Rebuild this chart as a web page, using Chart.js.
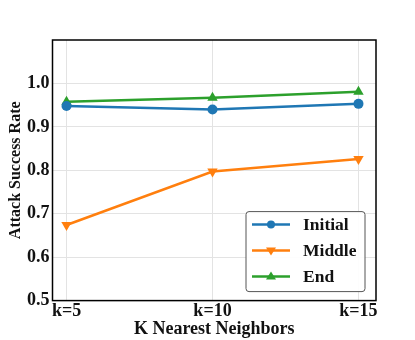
<!DOCTYPE html>
<html>
<head>
<meta charset="utf-8">
<script src="https://cdn.jsdelivr.net/npm/chart.js@4"></script>
<style>
  body { margin: 0; background: #fff; }
  #wrap { width: 415px; height: 340px; }
</style>
</head>
<body>
<div id="wrap"><canvas id="chart"></canvas></div>
<script>
const kValues = [5, 10, 15];
const kLabels = ['k=5', 'k=10', 'k=15'];
const initialRate = [0.948, 0.940, 0.953];
const middleRate = [0.674, 0.797, 0.826];
const endRate = [0.958, 0.967, 0.981];
const yTicks = [0.5, 0.6, 0.7, 0.8, 0.9, 1.0];

const serif = "'Liberation Serif', 'Times New Roman', serif";

function pts(vals) {
    return kValues.map((k, i) => ({ x: k, y: vals[i] }));
}

// frame round the plot and boxed legend inside it
const framePlugin = {
    id: 'frame',
    afterDraw(chart) {
        const ctx = chart.ctx;
        const a = chart.chartArea;
        ctx.save();
        ctx.strokeStyle = '#000';
        ctx.lineWidth = 1.5;
        ctx.strokeRect(a.left, a.top, a.right - a.left, a.bottom - a.top);

        // legend box
        const bx = a.right - 130, by = a.bottom - 89, bw = 119, bh = 80;
        ctx.fillStyle = 'rgba(255,255,255,0.9)';
        ctx.strokeStyle = '#555';
        ctx.lineWidth = 1;
        ctx.beginPath();
        ctx.roundRect(bx, by, bw, bh, 3);
        ctx.fill();
        ctx.stroke();

        ctx.font = 'bold 17.5px ' + serif;
        ctx.textBaseline = 'middle';
        chart.data.datasets.forEach((ds, i) => {
            const y = by + 13 + i * 26;
            ctx.strokeStyle = ds.borderColor;
            ctx.lineWidth = 2.5;
            ctx.beginPath();
            ctx.moveTo(bx + 6, y);
            ctx.lineTo(bx + 44, y);
            ctx.stroke();
            ctx.fillStyle = ds.borderColor;
            ctx.beginPath();
            if (ds.pointStyle === 'circle') {
                ctx.arc(bx + 25, y, 4, 0, Math.PI * 2);
            } else if (ds.pointRotation === 180) {
                ctx.moveTo(bx + 20, y - 3);
                ctx.lineTo(bx + 30, y - 3);
                ctx.lineTo(bx + 25, y + 5);
            } else {
                ctx.moveTo(bx + 20, y + 3);
                ctx.lineTo(bx + 30, y + 3);
                ctx.lineTo(bx + 25, y - 5);
            }
            ctx.closePath();
            ctx.fill();
            ctx.fillStyle = '#111';
            ctx.fillText(ds.label, bx + 57, y + 1);
        });
        ctx.restore();
    }
};

new Chart(document.querySelector('#chart').getContext('2d'), {
    type: 'line',
    data: {
        datasets: [
            {
                label: 'Initial',
                data: pts(initialRate),
                borderColor: '#1f77b4',
                backgroundColor: '#1f77b4',
                borderWidth: 2.5,
                pointStyle: 'circle',
                pointRadius: 5,
                pointBorderWidth: 0
            },
            {
                label: 'Middle',
                data: pts(middleRate),
                borderColor: '#ff7f0e',
                backgroundColor: '#ff7f0e',
                borderWidth: 2.5,
                pointStyle: 'triangle',
                pointRotation: 180,
                pointRadius: 6,
                pointBorderWidth: 0
            },
            {
                label: 'End',
                data: pts(endRate),
                borderColor: '#2ca02c',
                backgroundColor: '#2ca02c',
                borderWidth: 2.5,
                pointStyle: 'triangle',
                pointRadius: 6,
                pointBorderWidth: 0
            }
        ]
    },
    options: {
        responsive: true,
        maintainAspectRatio: false,
        animation: false,
        layout: { padding: { top: 40, right: 39, left: 5, bottom: 3 } },
        plugins: {
            legend: { display: false },
            tooltip: { enabled: false }
        },
        scales: {
            x: {
                type: 'linear',
                min: 4.52,
                max: 15.6,
                afterBuildTicks: (s) => { s.ticks = kValues.map(v => ({ value: v })); },
                ticks: {
                    callback: (v) => kLabels[kValues.indexOf(v)],
                    color: '#111',
                    font: { family: serif, size: 18, weight: 'bold', lineHeight: 1 },
                    padding: 2,
                    maxRotation: 0
                },
                grid: { color: '#e3e3e3', drawTicks: false },
                border: { display: false },
                title: {
                    display: true,
                    text: 'K Nearest Neighbors',
                    color: '#111',
                    font: { family: serif, size: 18, weight: 'bold', lineHeight: 0.8 },
                    padding: { top: 0, bottom: 0 }
                }
            },
            y: {
                min: 0.5,
                max: 1.1,
                afterBuildTicks: (s) => { s.ticks = yTicks.map(v => ({ value: v })); },
                ticks: {
                    callback: (v) => v.toFixed(1),
                    color: '#111',
                    font: { family: serif, size: 18, weight: 'bold' },
                    padding: 3
                },
                grid: { color: '#e3e3e3', drawTicks: false },
                border: { display: false },
                title: {
                    display: true,
                    text: 'Attack Success Rate',
                    color: '#111',
                    font: { family: serif, size: 16, weight: 'bold', lineHeight: 1 },
                    padding: { top: 3, bottom: 0 }
                }
            }
        }
    },
    plugins: [framePlugin]
});
</script>
</body>
</html>
